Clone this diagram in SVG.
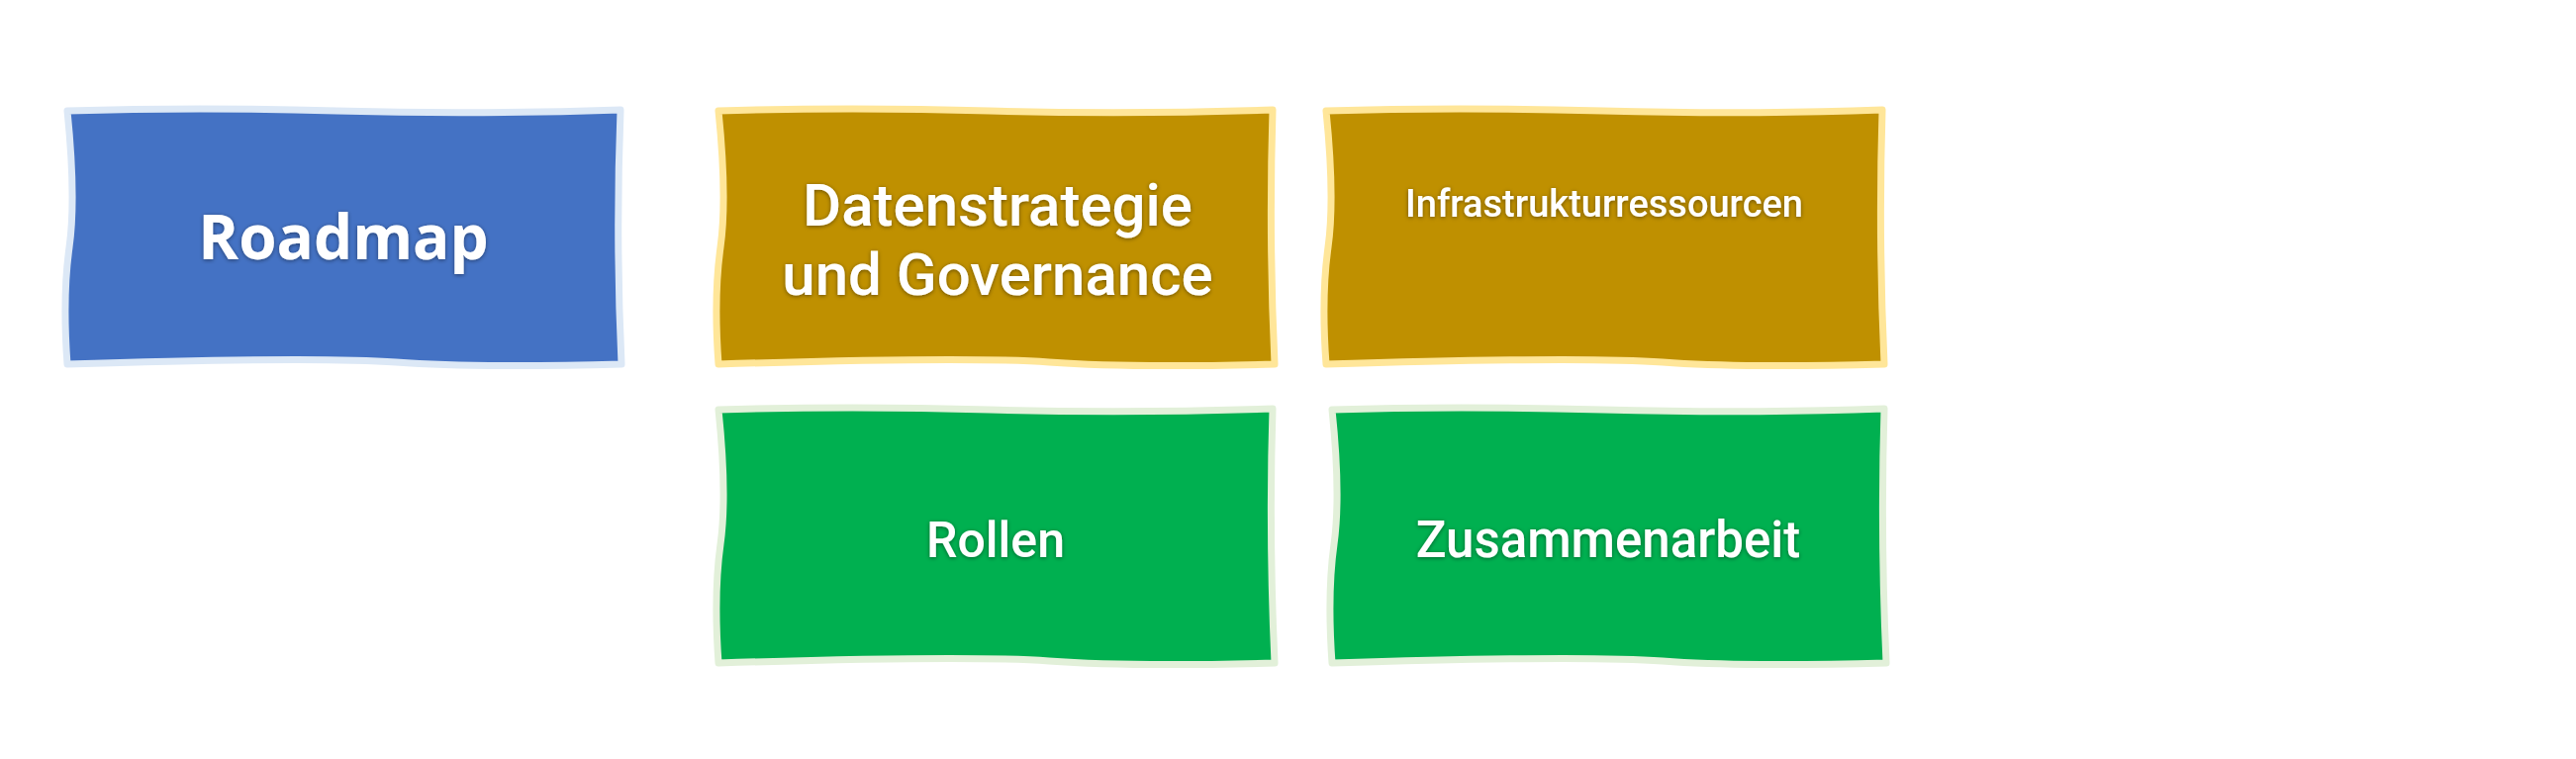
<svg xmlns="http://www.w3.org/2000/svg" width="2603" height="767" viewBox="0 0 2603 767">
<style>
.t{fill:#fff;font-family:Roboto,"Liberation Sans",sans-serif;font-weight:500;text-anchor:middle;filter:url(#sh)}
.rm{font-family:"Open Sans","Liberation Sans",sans-serif;font-weight:bold}
.b{stroke-width:7;stroke-linejoin:round}
.blue{fill:#4472C4;stroke:#DCE8F6}
.gold{fill:#BF9000;stroke:#FFE699}
.green{fill:#00B050;stroke:#E2F0D9}
</style>
<defs>
<filter id="sh" x="-10%" y="-30%" width="120%" height="160%"><feDropShadow dx="0" dy="1" stdDeviation="2" flood-color="#000" flood-opacity="0.45"/></filter>
</defs>
<rect width="2603" height="767" fill="#fff"/>
<g id="connectors"/>
<g id="roadmap">
<path class="b blue" d="M68,112 Q200,108 340,112 T627,111 Q622,240 628,368 Q480,372 400,366 T68,368 Q63,300 70,250 T68,112Z"/>
<text class="t rm" x="347" y="262" font-size="62">Roadmap</text>
</g>
<g id="datenstrategie">
<path class="b gold" d="M726,112 Q860,108 1000,112 T1286,111 Q1282,240 1288,368 Q1140,372 1060,366 T726,368 Q721,300 728,250 T726,112Z"/>
<text class="t" x="1008" y="228" font-size="60">Datenstrategie</text>
<text class="t" x="1008" y="298" font-size="60">und Governance</text>
</g>
<g id="infrastruktur">
<path class="b gold" d="M1340,112 Q1470,108 1620,112 T1902,111 Q1898,240 1904,368 Q1760,372 1680,366 T1340,368 Q1335,300 1342,250 T1340,112Z"/>
<text class="t" x="1621" y="219" font-size="38">Infrastrukturressourcen</text>
</g>
<g id="rollen">
<path class="b green" d="M726,414 Q860,410 1000,414 T1286,413 Q1282,540 1288,670 Q1140,674 1060,668 T726,670 Q721,600 728,550 T726,414Z"/>
<text class="t" x="1006" y="563" font-size="50">Rollen</text>
</g>
<g id="zusammenarbeit">
<path class="b green" d="M1346,414 Q1470,410 1620,414 T1904,413 Q1900,540 1906,670 Q1760,674 1680,668 T1346,670 Q1341,600 1348,550 T1346,414Z"/>
<text class="t" x="1625" y="563" font-size="51">Zusammenarbeit</text>
</g>
</svg>
